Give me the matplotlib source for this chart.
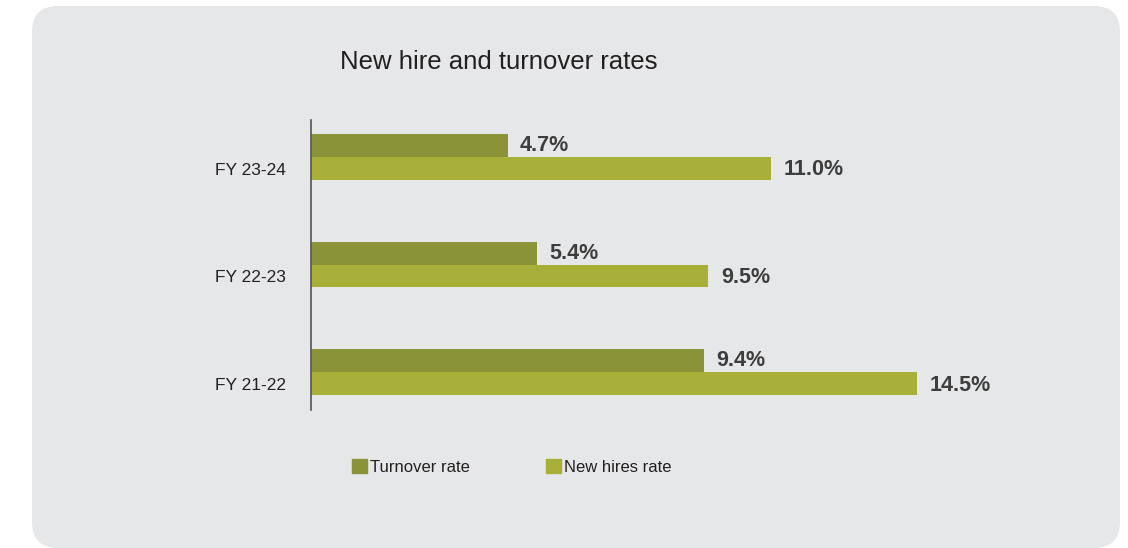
import matplotlib.pyplot as plt
from matplotlib.patches import FancyBboxPatch, Patch

plt.rcParams['font.family'] = ['Liberation Sans', 'DejaVu Sans']

# data (bottom to top)
years = ["FY 21-22", "FY 22-23", "FY 23-24"]
turnover = [9.4, 5.4, 4.7]
new_hires = [14.5, 9.5, 11.0]

c_turn = "#8a9338"
c_new = "#a8af38"
bg = "#e6e7e9"
txt = "#231f20"
lbl = "#3d3d3d"

fig = plt.figure(figsize=(11.28, 5.48), dpi=100)
fig.patch.set_facecolor("white")

# rounded grey panel, kept behind the axes
panel = FancyBboxPatch((0.32, 0.0), 10.88, 5.42, boxstyle="round,pad=0,rounding_size=0.26",
                       transform=fig.dpi_scale_trans, facecolor=bg, edgecolor="none", zorder=-10)
fig.patches.append(panel)

ax = fig.add_axes([311 / 1128, 1 - 410 / 548, 669 / 1128, 290 / 548])
ax.set_facecolor("none")
ax.set_zorder(5)

h = 0.213
ys = list(range(len(years)))
y_turn = [y + h / 2 for y in ys]
y_new = [y - h / 2 for y in ys]

ax.barh(y_turn, turnover, height=h, color=c_turn, label="Turnover rate")
ax.barh(y_new, new_hires, height=h, color=c_new, label="New hires rate")

for y, v in zip(y_turn, turnover):
    ax.text(v + 0.3, y, f"{v:.1f}%", va="center", ha="left", fontsize=15.5, fontweight="bold", color=lbl)
for y, v in zip(y_new, new_hires):
    ax.text(v + 0.3, y - 0.015, f"{v:.1f}%", va="center", ha="left", fontsize=15.5, fontweight="bold", color=lbl)

ax.set_xlim(0, 16)
ax.set_ylim(-0.352, 2.343)
ax.set_yticks([y - 0.11 for y in ys])
ax.set_yticklabels(years, fontsize=12.5, color=txt)
ax.tick_params(axis="y", length=0, pad=18)
ax.set_xticks([])
for s in ["top", "right", "bottom"]:
    ax.spines[s].set_visible(False)
ax.spines["left"].set_color("#555555")
ax.spines["left"].set_linewidth(1.2)

fig.text(340 / 1128, 1 - 62 / 548, "New hire and turnover rates", fontsize=18.5, color=txt,
         ha="left", va="center")

handles = [Patch(color=c_turn, label="Turnover rate"), Patch(color=c_new, label="New hires rate")]
fig.legend(handles=handles, loc="center left", bbox_to_anchor=(352 / 1128, 1 - 467 / 548), ncol=2,
           frameon=False, fontsize=12, handlelength=0.9, handleheight=0.9, handletextpad=0.2,
           columnspacing=4.55, labelcolor=txt, borderpad=0, borderaxespad=0)

fig.savefig("out.png", dpi=100, facecolor="white")
